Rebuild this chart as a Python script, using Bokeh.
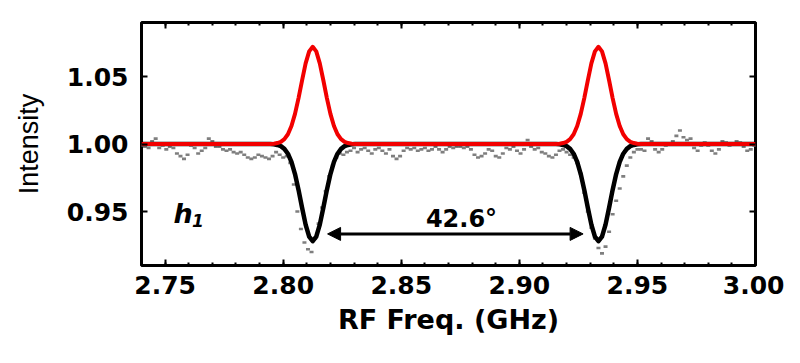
from bokeh.plotting import figure
from bokeh.models import Range1d, LinearAxis, FixedTicker, PrintfTickFormatter, Arrow, NormalHead
from bokeh.core.properties import value
from bokeh.embed import file_html
from bokeh.resources import INLINE

# ---------------- data ----------------
freq = [
    2.7400, 2.7415, 2.7430, 2.7445, 2.7460, 2.7475, 2.7490, 2.7505, 2.7520, 2.7535,
    2.7550, 2.7565, 2.7580, 2.7595, 2.7610, 2.7625, 2.7640, 2.7655, 2.7670, 2.7685,
    2.7700, 2.7715, 2.7730, 2.7745, 2.7760, 2.7775, 2.7790, 2.7805, 2.7820, 2.7835,
    2.7850, 2.7865, 2.7880, 2.7895, 2.7910, 2.7925, 2.7940, 2.7955, 2.7970, 2.7985,
    2.8000, 2.8015, 2.8030, 2.8045, 2.8060, 2.8075, 2.8090, 2.8105, 2.8120, 2.8135,
    2.8150, 2.8165, 2.8180, 2.8195, 2.8210, 2.8225, 2.8240, 2.8255, 2.8270, 2.8285,
    2.8300, 2.8315, 2.8330, 2.8345, 2.8360, 2.8375, 2.8390, 2.8405, 2.8420, 2.8435,
    2.8450, 2.8465, 2.8480, 2.8495, 2.8510, 2.8525, 2.8540, 2.8555, 2.8570, 2.8585,
    2.8600, 2.8615, 2.8630, 2.8645, 2.8660, 2.8675, 2.8690, 2.8705, 2.8720, 2.8735,
    2.8750, 2.8765, 2.8780, 2.8795, 2.8810, 2.8825, 2.8840, 2.8855, 2.8870, 2.8885,
    2.8900, 2.8915, 2.8930, 2.8945, 2.8960, 2.8975, 2.8990, 2.9005, 2.9020, 2.9035,
    2.9050, 2.9065, 2.9080, 2.9095, 2.9110, 2.9125, 2.9140, 2.9155, 2.9170, 2.9185,
    2.9200, 2.9215, 2.9230, 2.9245, 2.9260, 2.9275, 2.9290, 2.9305, 2.9320, 2.9335,
    2.9350, 2.9365, 2.9380, 2.9395, 2.9410, 2.9425, 2.9440, 2.9455, 2.9470, 2.9485,
    2.9500, 2.9515, 2.9530, 2.9545, 2.9560, 2.9575, 2.9590, 2.9605, 2.9620, 2.9635,
    2.9650, 2.9665, 2.9680, 2.9695, 2.9710, 2.9725, 2.9740, 2.9755, 2.9770, 2.9785,
    2.9800, 2.9815, 2.9830, 2.9845, 2.9860, 2.9875, 2.9890, 2.9905, 2.9920, 2.9935,
    2.9950, 2.9965, 2.9980, 2.9995,
]
intensity = [
    0.999, 0.998, 0.997, 1.002, 1.004, 0.997, 0.999, 0.996, 0.998, 0.997,
    0.993, 0.991, 0.989, 0.992, 0.999, 0.997, 0.993, 0.995, 0.997, 1.004,
    1.002, 0.998, 0.998, 0.996, 0.995, 0.996, 0.994, 0.993, 0.994, 0.992,
    0.990, 0.989, 0.990, 0.992, 0.991, 0.990, 0.989, 0.991, 0.994, 0.992,
    0.990, 0.991, 0.986, 0.970, 0.950, 0.937, 0.927, 0.922, 0.920, 0.930,
    0.941, 0.953, 0.965, 0.976, 0.984, 0.990, 0.993, 0.992, 0.994, 0.995,
    0.997, 0.994, 0.996, 0.997, 0.995, 0.993, 0.996, 0.997, 0.995, 0.993,
    0.996, 0.991, 0.989, 0.991, 0.995, 0.997, 0.996, 0.997, 0.995, 0.996,
    0.997, 0.995, 0.996, 0.998, 0.996, 0.994, 0.996, 0.998, 0.997, 0.998,
    0.998, 0.997, 0.998, 0.996, 0.992, 0.990, 0.991, 0.993, 0.996, 0.995,
    0.991, 0.990, 0.993, 0.997, 0.996, 0.998, 0.995, 0.993, 0.996, 1.003,
    0.998, 0.996, 0.997, 0.994, 0.993, 0.991, 0.990, 0.992, 0.995, 0.996,
    0.994, 0.992, 0.990, 0.986, 0.978, 0.964, 0.950, 0.938, 0.930, 0.923,
    0.919, 0.924, 0.935, 0.948, 0.958, 0.967, 0.976, 0.984, 0.990, 0.994,
    0.996, 0.996, 0.995, 1.004, 1.002, 0.996, 0.994, 0.996, 0.999, 1.000,
    1.002, 1.006, 1.010, 1.005, 1.003, 1.004, 0.997, 0.995, 0.999, 1.001,
    0.999, 0.995, 0.993, 0.996, 1.002, 1.001, 0.999, 1.000, 1.002, 1.001,
    0.998, 0.995, 0.996, 0.999,
]

fit_x = [
    2.7400,
    2.7945, 2.7960, 2.7975, 2.7990, 2.8005, 2.8020, 2.8035, 2.8050, 2.8065, 2.8080,
    2.8095, 2.8110, 2.8125, 2.8140, 2.8155, 2.8170, 2.8185, 2.8200, 2.8215, 2.8230,
    2.8245, 2.8260, 2.8275, 2.8290, 2.8305,
    2.9155, 2.9170, 2.9185, 2.9200, 2.9215, 2.9230, 2.9245, 2.9260, 2.9275, 2.9290,
    2.9305, 2.9320, 2.9335, 2.9350, 2.9365, 2.9380, 2.9395, 2.9410, 2.9425, 2.9440,
    2.9455, 2.9470, 2.9485, 2.9500, 2.9515,
    3.0000,
]
fit_up = [
    1.0000,
    1.0000, 1.0002, 1.0007, 1.0016, 1.0036, 1.0072, 1.0133, 1.0223, 1.0340, 1.0472,
    1.0597, 1.0686, 1.0720, 1.0686, 1.0597, 1.0472, 1.0340, 1.0223, 1.0133, 1.0072,
    1.0036, 1.0016, 1.0007, 1.0002, 1.0000,
    1.0000, 1.0002, 1.0007, 1.0016, 1.0036, 1.0072, 1.0133, 1.0223, 1.0340, 1.0472,
    1.0597, 1.0686, 1.0720, 1.0686, 1.0597, 1.0472, 1.0340, 1.0223, 1.0133, 1.0072,
    1.0036, 1.0016, 1.0007, 1.0002, 1.0000,
    1.0000,
]
fit_down = [
    1.0000,
    1.0000, 0.9998, 0.9993, 0.9984, 0.9964, 0.9928, 0.9867, 0.9777, 0.9660, 0.9528,
    0.9403, 0.9314, 0.9280, 0.9314, 0.9403, 0.9528, 0.9660, 0.9777, 0.9867, 0.9928,
    0.9964, 0.9984, 0.9993, 0.9998, 1.0000,
    1.0000, 0.9998, 0.9993, 0.9984, 0.9964, 0.9928, 0.9867, 0.9777, 0.9660, 0.9528,
    0.9403, 0.9314, 0.9280, 0.9314, 0.9403, 0.9528, 0.9660, 0.9777, 0.9867, 0.9928,
    0.9964, 0.9984, 0.9993, 0.9998, 1.0000,
    1.0000,
]

x_ticks = [2.75, 2.80, 2.85, 2.90, 2.95, 3.00]
x_minor_ticks = [2.74, 2.75, 2.76, 2.77, 2.78, 2.79, 2.80, 2.81, 2.82, 2.83, 2.84, 2.85,
                 2.86, 2.87, 2.88, 2.89, 2.90, 2.91, 2.92, 2.93, 2.94, 2.95, 2.96, 2.97,
                 2.98, 2.99, 3.00]
y_ticks = [0.95, 1.00, 1.05]

splitting_label = "42.6°"
panel_label = "h"
panel_sub = "1"

# ---------------- figure ----------------
FONT = "DejaVu Sans"
p = figure(width=784, height=347,
           x_range=Range1d(2.74, 3.00), y_range=Range1d(0.91, 1.09),
           output_backend="svg", toolbar_location=None,
           min_border_left=141, min_border_right=29,
           min_border_top=22, min_border_bottom=82,
           x_axis_label="RF Freq. (GHz)", y_axis_label="Intensity")
p.background_fill_color = "white"
p.border_fill_color = "white"
p.grid.visible = False
p.outline_line_color = "black"
p.outline_line_width = 3
p.outline_line_alpha = 1.0

def style_axis(ax, labels=True):
    ax.axis_line_color = None
    ax.major_tick_in = 6
    ax.major_tick_out = 0
    ax.minor_tick_in = 3
    ax.minor_tick_out = 0
    ax.major_tick_line_width = 2
    ax.minor_tick_line_width = 2
    ax.major_tick_line_color = "black"
    ax.minor_tick_line_color = "black"
    if labels:
        ax.major_label_text_font = FONT
        ax.major_label_text_font_size = "25px"
        ax.major_label_text_font_style = "bold"
        ax.major_label_text_color = "black"
    else:
        ax.major_label_text_font_size = "0px"
        ax.major_label_text_color = None
        ax.major_label_standoff = 0

xt = FixedTicker(ticks=x_ticks, minor_ticks=x_minor_ticks)
yt = FixedTicker(ticks=y_ticks, minor_ticks=[])

xa = p.xaxis[0]
xa.ticker = xt
xa.formatter = PrintfTickFormatter(format="%.2f")
style_axis(xa)
xa.major_label_standoff = 10
xa.axis_label_text_font = FONT
xa.axis_label_text_font_size = "27px"
xa.axis_label_text_font_style = "bold"
xa.axis_label_text_color = "black"
xa.axis_label_standoff = 7

ya = p.yaxis[0]
ya.ticker = yt
ya.formatter = PrintfTickFormatter(format="%.2f")
style_axis(ya)
ya.major_label_standoff = 13
ya.axis_label_text_font = "Liberation Sans"
ya.axis_label_text_font_size = "27px"
ya.axis_label_text_font_style = "normal"
ya.axis_label_text_color = "black"
ya.axis_label_standoff = 20

top = LinearAxis(ticker=FixedTicker(ticks=x_ticks, minor_ticks=x_minor_ticks))
style_axis(top, labels=False)
p.add_layout(top, "above")
right = LinearAxis(ticker=FixedTicker(ticks=y_ticks, minor_ticks=[]))
style_axis(right, labels=False)
p.add_layout(right, "right")

# data points (small grey dashes)
p.rect(x=freq, y=intensity, width=4, height=2.6, width_units="screen", height_units="screen",
       fill_color="#7f7f7f", line_color=None)

# fits
p.line(fit_x, fit_down, line_color="black", line_width=4.5, line_join="round")
p.line(fit_x, fit_up, line_color="#f20000", line_width=4, line_join="round")

# arrow
p.add_layout(Arrow(start=NormalHead(size=13, fill_color="black", line_color="black", line_width=1),
                   end=NormalHead(size=13, fill_color="black", line_color="black", line_width=1),
                   x_start=2.8188, y_start=0.9334, x_end=2.9270, y_end=0.9334,
                   line_width=3, line_color="black"))

p.text(x=[2.8755], y=[0.9448], text=[splitting_label], text_font=value(FONT),
       text_font_style="bold", text_font_size="24px", text_align="center",
       text_baseline="alphabetic", text_color="black")
p.text(x=[2.7535], y=[0.9485], text=[panel_label], text_font=value(FONT),
       text_font_style="bold italic", text_font_size="27px", text_align="left",
       text_baseline="alphabetic", text_color="black")
p.text(x=[2.7614], y=[0.9435], text=[panel_sub], text_font=value(FONT),
       text_font_style="bold italic", text_font_size="17px", text_align="left",
       text_baseline="alphabetic", text_color="black")

open("out.html", "w").write(file_html(p, INLINE))
